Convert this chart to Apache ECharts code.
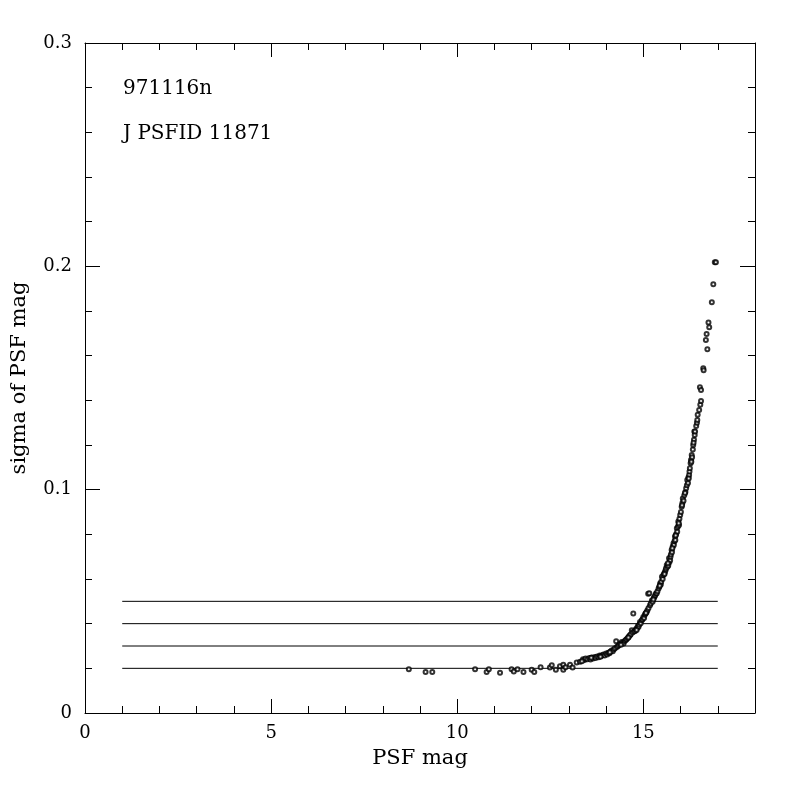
<!DOCTYPE html>
<html>
<head>
<meta charset="utf-8">
<script src="https://cdn.jsdelivr.net/npm/echarts@6/dist/echarts.min.js"></script>
<style>html,body{margin:0;padding:0;background:#fff;}#c{width:800px;height:800px;}</style>
</head>
<body>
<div id="c"></div>
<script>
// PSF magnitude of each star
var psfMag = [
 8.70, 9.15, 9.33, 10.48, 10.79, 10.85, 11.15, 11.46, 11.52, 11.62, 11.78, 12.00, 12.07, 12.24,
 12.49, 12.54, 12.65, 12.76, 12.85, 12.85, 12.91, 13.03, 13.10, 13.21, 13.30, 13.38,
 13.42, 13.45, 13.50, 13.55, 13.58, 13.62, 13.65, 13.70, 13.72, 13.76, 13.80, 13.83, 13.86, 13.90,
 13.93, 13.96, 14.00, 14.03, 14.06, 14.09, 14.12, 14.15, 14.18, 14.21, 14.24, 14.27, 14.29, 14.32,
 14.35, 14.38, 14.42, 14.45, 14.47, 14.50, 14.53, 14.55, 14.58, 14.61, 14.64, 14.66, 14.69, 14.71,
 14.73, 14.75, 14.78, 14.80, 14.83, 14.85, 14.87, 14.89, 14.91, 14.93, 14.96, 14.98, 15.00, 15.02,
 15.04, 15.06, 15.09, 15.11, 15.13, 15.14, 15.16, 15.18, 15.20, 15.23, 15.25, 15.28, 15.30, 15.32,
 15.34, 15.36, 15.38, 15.41, 15.43, 15.45, 15.47, 15.48, 15.50, 15.52, 15.54, 15.56, 15.58, 15.60,
 15.61, 15.63, 15.65, 15.67, 15.69, 15.70, 15.72, 15.73, 15.74, 15.76, 15.77, 15.79, 15.81, 15.82,
 15.84, 15.85, 15.86, 15.88, 15.90, 15.91, 15.93, 15.94, 15.96, 15.97, 15.99, 16.01, 16.03, 16.05,
 16.06, 16.08, 16.10, 16.13, 16.15, 16.17, 16.18, 16.20, 16.21, 16.23, 16.24, 16.25, 16.27, 16.28,
 16.30, 16.31, 16.33, 16.34, 16.36, 16.37, 16.38, 16.39, 16.42, 16.44, 16.45, 16.46, 16.50, 16.53,
 16.55, 16.52, 16.55, 16.61, 16.62, 16.68, 16.70, 16.72, 16.75, 16.77, 16.84, 16.88, 16.92, 16.95,
 13.35, 13.60, 13.85, 14.10, 14.40, 14.60, 14.82, 15.07, 15.27, 15.44, 15.57, 15.66, 15.78, 15.87,
 15.95, 16.04, 16.12, 16.22, 16.29, 16.35
];
// sigma of PSF magnitude
var sigmaMag = [
 0.0196, 0.0184, 0.0184, 0.0196, 0.0184, 0.0196, 0.0180, 0.0196, 0.0186, 0.0196, 0.0184, 0.0194, 0.0184, 0.0205,
 0.0204, 0.0214, 0.0194, 0.0209, 0.0216, 0.0194, 0.0205, 0.0216, 0.0204, 0.0226, 0.0229, 0.0241,
 0.0237, 0.0244, 0.0241, 0.0246, 0.0239, 0.0248, 0.0244, 0.0251, 0.0246, 0.0253, 0.0250, 0.0257, 0.0255, 0.0259,
 0.0262, 0.0258, 0.0266, 0.0262, 0.0270, 0.0268, 0.0275, 0.0280, 0.0277, 0.0285, 0.0290, 0.0321, 0.0296, 0.0300,
 0.0305, 0.0310, 0.0318, 0.0314, 0.0311, 0.0322, 0.0327, 0.0330, 0.0336, 0.0342, 0.0348, 0.0352, 0.0370, 0.0360,
 0.0445, 0.0365, 0.0367, 0.0375, 0.0380, 0.0388, 0.0385, 0.0395, 0.0407, 0.0402, 0.0415, 0.0420, 0.0430, 0.0425,
 0.0440, 0.0445, 0.0452, 0.0460, 0.0534, 0.0470, 0.0536, 0.0482, 0.0490, 0.0504, 0.0498, 0.0515, 0.0520, 0.0527,
 0.0535, 0.0536, 0.0545, 0.0557, 0.0565, 0.0580, 0.0575, 0.0588, 0.0610, 0.0600, 0.0618, 0.0625, 0.0631, 0.0640,
 0.0648, 0.0663, 0.0655, 0.0660, 0.0693, 0.0675, 0.0684, 0.0700, 0.0710, 0.0730, 0.0720, 0.0745, 0.0760, 0.0752,
 0.0770, 0.0790, 0.0775, 0.0800, 0.0827, 0.0812, 0.0835, 0.0857, 0.0842, 0.0870, 0.0887, 0.0900, 0.0924, 0.0940,
 0.0961, 0.0950, 0.0975, 0.0990, 0.1006, 0.1020, 0.1043, 0.1030, 0.1055, 0.1066, 0.1081, 0.1096, 0.1118, 0.1133,
 0.1155, 0.1145, 0.1180, 0.1200, 0.1223, 0.1260, 0.1245, 0.1260, 0.1285, 0.1300, 0.1312, 0.1335, 0.1357, 0.1380,
 0.1397, 0.1459, 0.1446, 0.1544, 0.1535, 0.1670, 0.1697, 0.1629, 0.1748, 0.1727, 0.1839, 0.1920, 0.2018, 0.2018,
 0.0232, 0.0247, 0.0252, 0.0272, 0.0306, 0.0338, 0.0372, 0.0448, 0.0508, 0.0570, 0.0622, 0.0670, 0.0738, 0.0795,
 0.0850, 0.0930, 0.0985, 0.1050, 0.1125, 0.1210
];
// reference levels drawn as horizontal lines
var refLevels = [0.02, 0.03, 0.04, 0.05];
var refLineStart = 1;
var refLineEnd = 17;
// axis settings and labels
var xMin = 0, xMax = 18, xInterval = 5;
var yMin = 0, yMax = 0.3, yInterval = 0.1;
var xTitle = 'PSF mag';
var yTitle = 'sigma of PSF mag';
var noteLines = ['971116n', 'J PSFID 11871'];

var FONT = '"DejaVu Serif", serif';
var chart = echarts.init(document.getElementById('c'));

var pts = psfMag.map(function (m, i) { return [m, sigmaMag[i]]; });
var series = [{
  type: 'scatter',
  data: pts,
  symbol: 'emptyCircle',
  symbolSize: 4,
  itemStyle: { color: '#000', borderColor: '#000', borderWidth: 1 },
  silent: true,
  animation: false,
  z: 3
}];
refLevels.forEach(function (lv) {
  series.push({
    type: 'line',
    data: [[refLineStart, lv], [refLineEnd, lv]],
    symbol: 'none',
    lineStyle: { color: '#000', width: 1 },
    silent: true,
    animation: false,
    z: 2
  });
});

function xAx(pos, show) {
  return {
    type: 'value', position: pos, min: xMin, max: xMax, interval: xInterval,
    axisLine: { show: true, onZero: false, lineStyle: { color: '#000', width: 1 } },
    axisTick: { show: true, inside: true, length: 14, lineStyle: { color: '#000', width: 1 } },
    minorTick: { show: true, splitNumber: 5, length: 7, lineStyle: { color: '#000', width: 1 } },
    axisLabel: { show: show, showMaxLabel: false, color: '#000', fontFamily: FONT, fontSize: 18, margin: 11 },
    splitLine: { show: false }
  };
}
function yAx(pos, show) {
  return {
    type: 'value', position: pos, min: yMin, max: yMax, interval: yInterval,
    axisLine: { show: true, onZero: false, lineStyle: { color: '#000', width: 1 } },
    axisTick: { show: true, inside: true, length: 15, lineStyle: { color: '#000', width: 1 } },
    minorTick: { show: true, splitNumber: 5, length: 7, lineStyle: { color: '#000', width: 1 } },
    axisLabel: { show: show, color: '#000', fontFamily: FONT, fontSize: 18, margin: 13,
      formatter: function (v) { return v === 0 ? '0' : String(Math.round(v * 10) / 10); } },
    splitLine: { show: false }
  };
}

chart.setOption({
  backgroundColor: '#fff',
  animation: false,
  grid: { left: 85, right: 45, top: 43, bottom: 87, containLabel: false },
  xAxis: [xAx('bottom', true), xAx('top', false)],
  yAxis: [yAx('left', true), yAx('right', false)],
  series: series,
  graphic: [
    { type: 'text', x: 420, y: 759, style: { text: xTitle, fill: '#000', font: '21px ' + FONT, align: 'center', verticalAlign: 'middle' } },
    { type: 'text', x: 20, y: 378, rotation: Math.PI / 2,
      style: { text: yTitle, fill: '#000', font: '21px ' + FONT, align: 'center', verticalAlign: 'middle' } },
    { type: 'text', x: 123, y: 89, style: { text: noteLines[0], fill: '#000', font: '20px ' + FONT, verticalAlign: 'middle' } },
    { type: 'text', x: 123, y: 134, style: { text: noteLines[1], fill: '#000', font: '20px ' + FONT, verticalAlign: 'middle' } }
  ]
});
</script>
</body>
</html>
